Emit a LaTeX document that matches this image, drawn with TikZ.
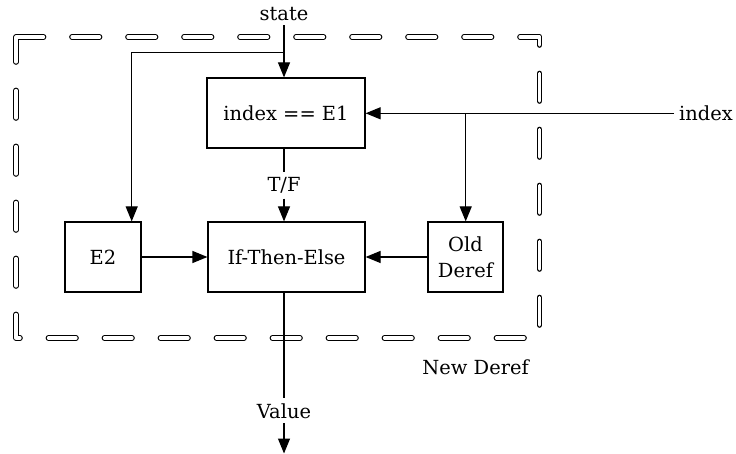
\documentclass[tikz,border=0pt]{standalone}
\usepackage{fontspec}
\setmainfont{DejaVu Serif}
\usetikzlibrary{arrows.meta}
\begin{document}
\begin{tikzpicture}[x=1bp,y=-1bp,
  wire/.style={line width=1.2bp},
  flow/.style={wire,-{Triangle[length=15bp,width=12bp]}},
  blk/.style={draw,line width=1.2bp,inner sep=0pt,minimum height=70bp,align=center,
    font=\fontsize{19.5}{26}\selectfont},
  lbl/.style={inner sep=5bp,font=\fontsize{19.5}{26}\selectfont},
  frame/.style={draw,line width=1.2bp,double=white,double distance=3.3bp,
    line cap=round,line join=round,dash pattern=on 27.5bp off 28.5bp}
]
\useasboundingbox (0,0) rectangle (736,454);

% outer boundary of the composed block
\draw[frame] (16,37) -- (539.5,37) -- (539.5,338) -- (16,338) -- cycle;

% blocks
\node[blk,minimum width=158bp] (test) at (286,113) {index == E1};
\node[blk,minimum width=157bp] (ite) at (286.5,257) {If-Then-Else};
\node[blk,minimum width=76bp] (e2) at (103,257) {E2};
\node[blk,minimum width=75bp] (old) at (465.5,257) {Old\\Deref};

% labels
\node[lbl,anchor=base,inner sep=4bp] (state) at (284,20.7) {state};
\node[lbl,anchor=base] (index) at (706,120.7) {index};
\node[lbl,anchor=base] (tf) at (284,191.7) {T/F};
\node[lbl,anchor=base] (val) at (284,418) {Value};
\node[lbl,anchor=base] (nd) at (475.6,374) {New Deref};

% branch points and free ends
\coordinate (b2) at (284,52.3);
\coordinate (b2x) at (131.7,52.3);
\coordinate (b1) at (465.7,113.3);
\coordinate (vend) at (284,453.5);

% connectors
\draw[flow] (state) -- (state |- test.north);
\draw[flow] (b2) -- (b2x) -- (b2x |- e2.north);
\draw[flow] (index.west |- b1) -- (test.east |- b1);
\draw[flow] (b1) -- (b1 |- old.north);
\draw[wire] (tf |- test.south) -- (tf);
\draw[flow] (tf) -- (tf |- ite.north);
\draw[flow] (e2) -- (ite);
\draw[flow] (old) -- (ite);
\draw[wire] (val |- ite.south) -- (val);
\draw[flow] (val) -- (vend);
\end{tikzpicture}
\end{document}
